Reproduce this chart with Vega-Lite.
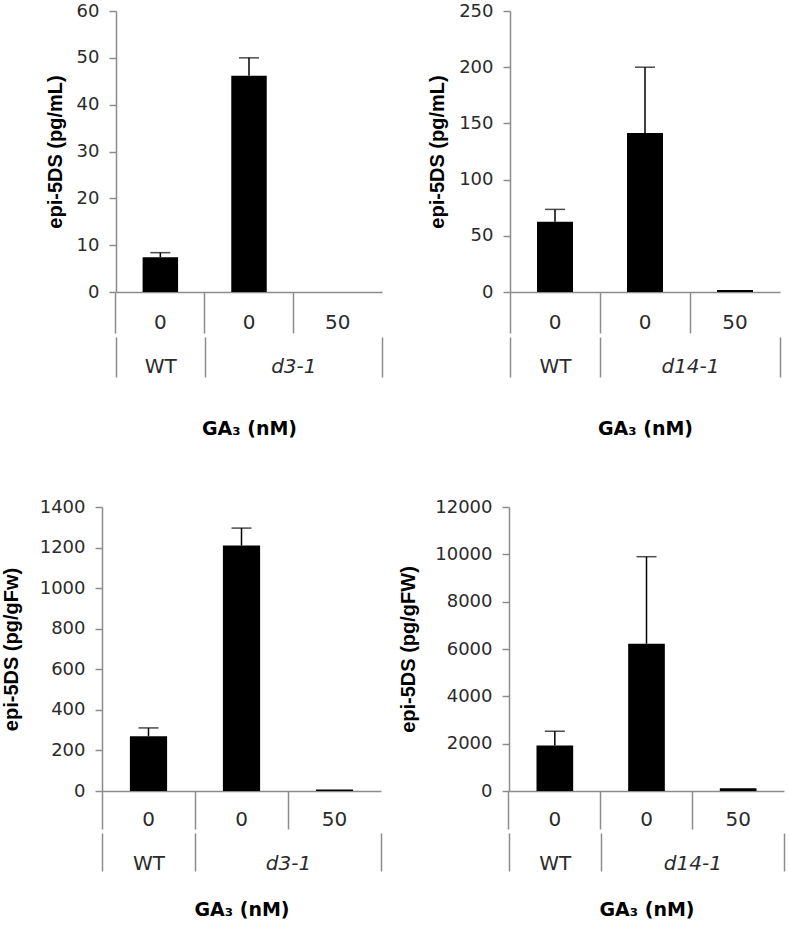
{
  "$schema": "https://vega.github.io/schema/vega-lite/v6.json",
  "background": "white",
  "padding": {"left": 0, "top": 2, "right": 2, "bottom": 2},
  "config": {
    "view": {"stroke": null},
    "axis": {
      "grid": false,
      "domainColor": "#8c8c8c",
      "tickColor": "#8c8c8c",
      "domainWidth": 1.5,
      "tickWidth": 1.5,
      "labelColor": "#2b2b2b",
      "labelFont": "DejaVu Sans",
      "labelFontSize": 18,
      "titleFont": "Liberation Sans",
      "titleFontSize": 20,
      "titleFontWeight": "bold",
      "titleColor": "#000000"
    }
  },
  "datasets": {
    "A": [
      {"cond": "WT|0", "genotype": "WT", "dose": "0", "value": 7.4, "hi": 8.4},
      {"cond": "d3-1|0", "genotype": "d3-1", "dose": "0", "value": 46.2, "hi": 50.0},
      {"cond": "d3-1|50", "genotype": "d3-1", "dose": "50", "value": 0, "hi": null}
    ],
    "B": [
      {"cond": "WT|0", "genotype": "WT", "dose": "0", "value": 62.6, "hi": 73.5},
      {"cond": "d14-1|0", "genotype": "d14-1", "dose": "0", "value": 141.5, "hi": 200},
      {"cond": "d14-1|50", "genotype": "d14-1", "dose": "50", "value": 1.8, "hi": null}
    ],
    "C": [
      {"cond": "WT|0", "genotype": "WT", "dose": "0", "value": 270, "hi": 311},
      {"cond": "d3-1|0", "genotype": "d3-1", "dose": "0", "value": 1210, "hi": 1296},
      {"cond": "d3-1|50", "genotype": "d3-1", "dose": "50", "value": 8, "hi": null}
    ],
    "D": [
      {"cond": "WT|0", "genotype": "WT", "dose": "0", "value": 1925, "hi": 2525},
      {"cond": "d14-1|0", "genotype": "d14-1", "dose": "0", "value": 6220, "hi": 9900},
      {"cond": "d14-1|50", "genotype": "d14-1", "dose": "50", "value": 120, "hi": null}
    ],
    "spacer": []
  },
  "spacing": 59,
  "vconcat": [
    {
      "spacing": 0,
      "hconcat": [
        {
          "width": 45, "height": 10,
          "data": {"name": "spacer"},
          "view": {"fill": "white", "stroke": null},
          "mark": "point",
          "encoding": {}
        },
        {
          "spacing": 44,
          "hconcat": [
            {
              "width": 266, "height": 281,
              "data": {"name": "A"},
              "resolve": {"scale": {"x": "independent"}, "axis": {"x": "independent"}},
              "layer": [
                {
                  "layer": [
                    {
                      "mark": {"type": "bar", "color": "#000000"},
                      "encoding": {
                        "x": {"field": "cond", "type": "nominal", "sort": null, "scale": {"paddingInner": 0.6, "paddingOuter": 0.3},
                          "axis": {"orient": "bottom", "title": null, "labelExpr": "split(datum.value, '|')[1]", "bandPosition": -0.75, "tickSize": 41, "labelPadding": -11, "labelBaseline": "middle", "labelAngle": 0, "labelFontSize": 20}},
                        "y": {"field": "value", "type": "quantitative", "scale": {"domain": [0, 60], "nice": false},
                          "axis": {"title": "epi-5DS (pg/mL)", "values": [0, 10, 20, 30, 40, 50, 60], "format": "d", "tickSize": 7, "labelPadding": 10, "titlePadding": 11}}
                      }
                    },
                    {
                      "transform": [{"filter": "datum.hi != null"}],
                      "mark": {"type": "rule", "color": "#000000", "strokeWidth": 1.5},
                      "encoding": {
                        "x": {"field": "cond", "type": "nominal", "sort": null},
                        "y": {"field": "value", "type": "quantitative", "scale": {"domain": [0, 60], "nice": false}},
                        "y2": {"field": "hi"}
                      }
                    },
                    {
                      "transform": [{"filter": "datum.hi != null"}],
                      "mark": {"type": "tick", "color": "#000000", "thickness": 1.5, "size": 20},
                      "encoding": {
                        "x": {"field": "cond", "type": "nominal", "sort": null},
                        "y": {"field": "hi", "type": "quantitative", "scale": {"domain": [0, 60], "nice": false}}
                      }
                    }
                  ]
                },
                {
                  "mark": {"type": "point", "opacity": 0},
                  "encoding": {
                    "x": {"datum": 0, "type": "quantitative", "scale": {"domain": [0, 3], "nice": false, "zero": false},
                      "axis": {"orient": "bottom", "values": [0, 0.5, 1, 2, 3], "labelExpr": "datum.value == 0.5 ? 'WT' : (datum.value == 2 ? 'd3-1' : '')",
                        "tickOpacity": {"condition": {"test": "datum.value == 0.5 || datum.value == 2", "value": 0}, "value": 1},
                        "labelFontStyle": {"condition": {"test": "datum.value == 0.5", "value": "normal"}, "value": "italic"},
                        "tickSize": 40, "offset": 45, "domain": false, "labelPadding": -11, "labelBaseline": "middle", "labelFontSize": 20,
                        "labelOverlap": false, "labelFlush": false, "labelBound": false,
                        "title": "GA₃ (nM)", "titleFont": "DejaVu Sans", "titleFontSize": 19, "titlePadding": 42}}
                  }
                }
              ]
            },
            {
              "width": 270, "height": 281,
              "data": {"name": "B"},
              "resolve": {"scale": {"x": "independent"}, "axis": {"x": "independent"}},
              "layer": [
                {
                  "layer": [
                    {
                      "mark": {"type": "bar", "color": "#000000"},
                      "encoding": {
                        "x": {"field": "cond", "type": "nominal", "sort": null, "scale": {"paddingInner": 0.6, "paddingOuter": 0.3},
                          "axis": {"orient": "bottom", "title": null, "labelExpr": "split(datum.value, '|')[1]", "bandPosition": -0.75, "tickSize": 41, "labelPadding": -11, "labelBaseline": "middle", "labelAngle": 0, "labelFontSize": 20}},
                        "y": {"field": "value", "type": "quantitative", "scale": {"domain": [0, 250], "nice": false},
                          "axis": {"title": "epi-5DS (pg/mL)", "values": [0, 50, 100, 150, 200, 250], "format": "d", "tickSize": 7, "labelPadding": 10, "titlePadding": 11}}
                      }
                    },
                    {
                      "transform": [{"filter": "datum.hi != null"}],
                      "mark": {"type": "rule", "color": "#000000", "strokeWidth": 1.5},
                      "encoding": {
                        "x": {"field": "cond", "type": "nominal", "sort": null},
                        "y": {"field": "value", "type": "quantitative", "scale": {"domain": [0, 250], "nice": false}},
                        "y2": {"field": "hi"}
                      }
                    },
                    {
                      "transform": [{"filter": "datum.hi != null"}],
                      "mark": {"type": "tick", "color": "#000000", "thickness": 1.5, "size": 20},
                      "encoding": {
                        "x": {"field": "cond", "type": "nominal", "sort": null},
                        "y": {"field": "hi", "type": "quantitative", "scale": {"domain": [0, 250], "nice": false}}
                      }
                    }
                  ]
                },
                {
                  "mark": {"type": "point", "opacity": 0},
                  "encoding": {
                    "x": {"datum": 0, "type": "quantitative", "scale": {"domain": [0, 3], "nice": false, "zero": false},
                      "axis": {"orient": "bottom", "values": [0, 0.5, 1, 2, 3], "labelExpr": "datum.value == 0.5 ? 'WT' : (datum.value == 2 ? 'd14-1' : '')",
                        "tickOpacity": {"condition": {"test": "datum.value == 0.5 || datum.value == 2", "value": 0}, "value": 1},
                        "labelFontStyle": {"condition": {"test": "datum.value == 0.5", "value": "normal"}, "value": "italic"},
                        "tickSize": 40, "offset": 45, "domain": false, "labelPadding": -11, "labelBaseline": "middle", "labelFontSize": 20,
                        "labelOverlap": false, "labelFlush": false, "labelBound": false,
                        "title": "GA₃ (nM)", "titleFont": "DejaVu Sans", "titleFontSize": 19, "titlePadding": 42}}
                  }
                }
              ]
            }
          ]
        }
      ]
    },
    {
      "spacing": 0,
      "hconcat": [
        {
          "width": 1, "height": 10,
          "data": {"name": "spacer"},
          "view": {"fill": "white", "stroke": null},
          "mark": "point",
          "encoding": {}
        },
        {
          "spacing": 16,
          "hconcat": [
            {
              "width": 279, "height": 284,
              "data": {"name": "C"},
              "resolve": {"scale": {"x": "independent"}, "axis": {"x": "independent"}},
              "layer": [
                {
                  "layer": [
                    {
                      "mark": {"type": "bar", "color": "#000000"},
                      "encoding": {
                        "x": {"field": "cond", "type": "nominal", "sort": null, "scale": {"paddingInner": 0.6, "paddingOuter": 0.3},
                          "axis": {"orient": "bottom", "title": null, "labelExpr": "split(datum.value, '|')[1]", "bandPosition": -0.75, "tickSize": 38, "labelPadding": -10, "labelBaseline": "middle", "labelAngle": 0, "labelFontSize": 20}},
                        "y": {"field": "value", "type": "quantitative", "scale": {"domain": [0, 1400], "nice": false},
                          "axis": {"title": "epi-5DS (pg/gFw)", "values": [0, 200, 400, 600, 800, 1000, 1200, 1400], "format": "d", "tickSize": 7, "labelPadding": 10, "titlePadding": 18}}
                      }
                    },
                    {
                      "transform": [{"filter": "datum.hi != null"}],
                      "mark": {"type": "rule", "color": "#000000", "strokeWidth": 1.5},
                      "encoding": {
                        "x": {"field": "cond", "type": "nominal", "sort": null},
                        "y": {"field": "value", "type": "quantitative", "scale": {"domain": [0, 1400], "nice": false}},
                        "y2": {"field": "hi"}
                      }
                    },
                    {
                      "transform": [{"filter": "datum.hi != null"}],
                      "mark": {"type": "tick", "color": "#000000", "thickness": 1.5, "size": 20},
                      "encoding": {
                        "x": {"field": "cond", "type": "nominal", "sort": null},
                        "y": {"field": "hi", "type": "quantitative", "scale": {"domain": [0, 1400], "nice": false}}
                      }
                    }
                  ]
                },
                {
                  "mark": {"type": "point", "opacity": 0},
                  "encoding": {
                    "x": {"datum": 0, "type": "quantitative", "scale": {"domain": [0, 3], "nice": false, "zero": false},
                      "axis": {"orient": "bottom", "values": [0, 0.5, 1, 2, 3], "labelExpr": "datum.value == 0.5 ? 'WT' : (datum.value == 2 ? 'd3-1' : '')",
                        "tickOpacity": {"condition": {"test": "datum.value == 0.5 || datum.value == 2", "value": 0}, "value": 1},
                        "labelFontStyle": {"condition": {"test": "datum.value == 0.5", "value": "normal"}, "value": "italic"},
                        "tickSize": 38, "offset": 42, "domain": false, "labelPadding": -8, "labelBaseline": "middle", "labelFontSize": 20,
                        "labelOverlap": false, "labelFlush": false, "labelBound": false,
                        "title": "GA₃ (nM)", "titleFont": "DejaVu Sans", "titleFontSize": 19, "titlePadding": 27}}
                  }
                }
              ]
            },
            {
              "width": 275, "height": 284,
              "data": {"name": "D"},
              "resolve": {"scale": {"x": "independent"}, "axis": {"x": "independent"}},
              "layer": [
                {
                  "layer": [
                    {
                      "mark": {"type": "bar", "color": "#000000"},
                      "encoding": {
                        "x": {"field": "cond", "type": "nominal", "sort": null, "scale": {"paddingInner": 0.6, "paddingOuter": 0.3},
                          "axis": {"orient": "bottom", "title": null, "labelExpr": "split(datum.value, '|')[1]", "bandPosition": -0.75, "tickSize": 38, "labelPadding": -10, "labelBaseline": "middle", "labelAngle": 0, "labelFontSize": 20}},
                        "y": {"field": "value", "type": "quantitative", "scale": {"domain": [0, 12000], "nice": false},
                          "axis": {"title": "epi-5DS (pg/gFW)", "values": [0, 2000, 4000, 6000, 8000, 10000, 12000], "format": "d", "tickSize": 7, "labelPadding": 10, "titlePadding": 16}}
                      }
                    },
                    {
                      "transform": [{"filter": "datum.hi != null"}],
                      "mark": {"type": "rule", "color": "#000000", "strokeWidth": 1.5},
                      "encoding": {
                        "x": {"field": "cond", "type": "nominal", "sort": null},
                        "y": {"field": "value", "type": "quantitative", "scale": {"domain": [0, 12000], "nice": false}},
                        "y2": {"field": "hi"}
                      }
                    },
                    {
                      "transform": [{"filter": "datum.hi != null"}],
                      "mark": {"type": "tick", "color": "#000000", "thickness": 1.5, "size": 20},
                      "encoding": {
                        "x": {"field": "cond", "type": "nominal", "sort": null},
                        "y": {"field": "hi", "type": "quantitative", "scale": {"domain": [0, 12000], "nice": false}}
                      }
                    }
                  ]
                },
                {
                  "mark": {"type": "point", "opacity": 0},
                  "encoding": {
                    "x": {"datum": 0, "type": "quantitative", "scale": {"domain": [0, 3], "nice": false, "zero": false},
                      "axis": {"orient": "bottom", "values": [0, 0.5, 1, 2, 3], "labelExpr": "datum.value == 0.5 ? 'WT' : (datum.value == 2 ? 'd14-1' : '')",
                        "tickOpacity": {"condition": {"test": "datum.value == 0.5 || datum.value == 2", "value": 0}, "value": 1},
                        "labelFontStyle": {"condition": {"test": "datum.value == 0.5", "value": "normal"}, "value": "italic"},
                        "tickSize": 38, "offset": 42, "domain": false, "labelPadding": -8, "labelBaseline": "middle", "labelFontSize": 20,
                        "labelOverlap": false, "labelFlush": false, "labelBound": false,
                        "title": "GA₃ (nM)", "titleFont": "DejaVu Sans", "titleFontSize": 19, "titlePadding": 27}}
                  }
                }
              ]
            }
          ]
        }
      ]
    }
  ]
}
